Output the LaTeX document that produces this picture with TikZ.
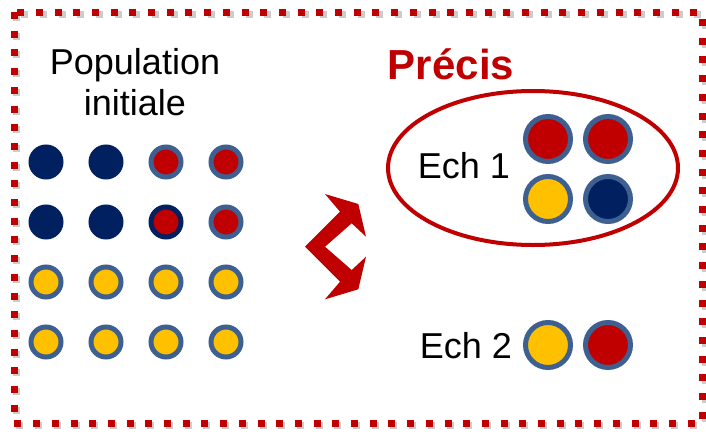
\documentclass[tikz,border=0pt]{standalone}
\usepackage{fontspec}
\setmainfont{Liberation Sans}

\definecolor{rouge}{HTML}{C00000}
\definecolor{marine}{HTML}{002060}
\definecolor{jaune}{HTML}{FFC000}
\definecolor{anneau}{HTML}{3E6090}

\begin{document}
\begin{tikzpicture}[x = 1pt, y = -1pt,
	dot/.style = {circle, inner sep = 0pt, minimum size = 30pt, line width = 5pt, draw = anneau},
	bigdot/.style = {dot, minimum size = 45pt},
	legende/.style = {font = \fontsize{36}{41}\selectfont, align = center}]

	\useasboundingbox (0, 0) rectangle (706, 431);

	% Frame + shadow
	
	\draw [gray!40, line width = 7pt, dash pattern = on 7pt off 11.7pt] (16, 14) rectangle (705, 425);
	\draw [rouge, line width = 7pt, dash pattern = on 7pt off 11.7pt] (14, 12) rectangle (702, 423);
	
	% Population
	
	\node [legende] (pop) at (135, 82) {Population\\initiale};
	
	\foreach \f/\d [count = \i] in {marine/marine, marine/marine, rouge/anneau, rouge/anneau}
		\node [dot, fill = \f, draw = \d] (p1\i) at (-14 + 60 * \i, 162) {};
	\foreach \f/\d [count = \i] in {marine/marine, marine/marine, rouge/marine, rouge/anneau}
		\node [dot, fill = \f, draw = \d] (p2\i) at (-14 + 60 * \i, 222) {};
	\foreach \i in {1, ..., 4}
	{
		\node [dot, fill = jaune] (p3\i) at (-14 + 60 * \i, 282) {};
		\node [dot, fill = jaune] (p4\i) at (-14 + 60 * \i, 342) {};
	}
	
	% Double arrow
	
	\fill [rouge] (305, 246.7) -- (340, 211.7) -- (325, 194) -- (358.3, 204) -- (366, 236.7)
		-- (351.7, 223.3) -- (325, 246.7) -- (351.7, 270) -- (366, 256.7) -- (358.3, 289.3)
		-- (325, 299.3) -- (340, 281.7) -- cycle;
	
	% Samples
	
	\node [legende, anchor = base, text = rouge, font = \fontsize{42}{46}\selectfont\bfseries] (precis) at (451, 79) {Précis};
	
	\draw [rouge, line width = 4pt] (533, 168) ellipse [x radius = 145pt, y radius = 77pt];
	
	\node [legende, anchor = base] (ech1) at (464, 178) {Ech 1};
	\node [bigdot, fill = rouge] (e11) at (548, 139) {};
	\node [bigdot, fill = rouge] (e12) at (608, 139) {};
	\node [bigdot, fill = jaune] (e13) at (548, 199) {};
	\node [bigdot, fill = marine] (e14) at (608, 199) {};
	
	\node [legende, anchor = base] (ech2) at (466, 358) {Ech 2};
	\node [bigdot, fill = jaune] (e21) at (548, 345) {};
	\node [bigdot, fill = rouge] (e22) at (608, 345) {};

\end{tikzpicture}
\end{document}
